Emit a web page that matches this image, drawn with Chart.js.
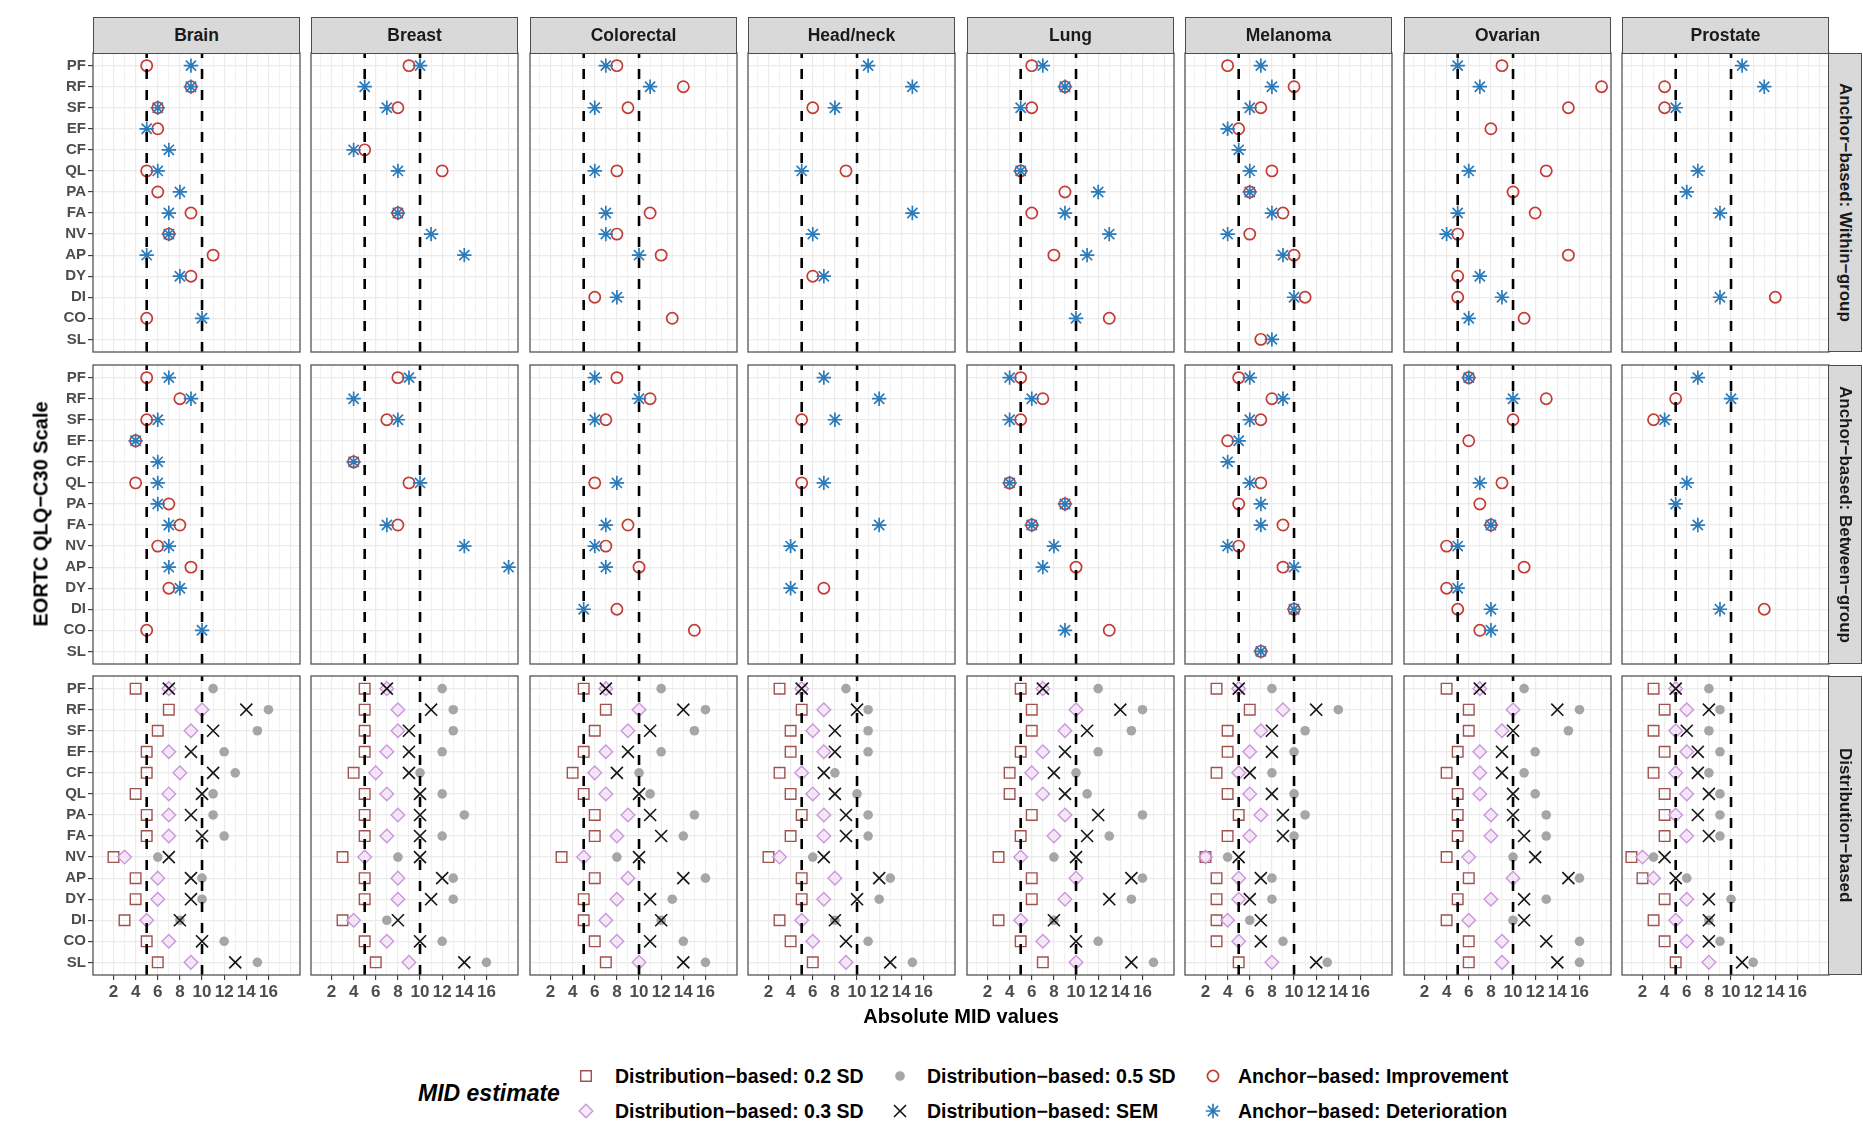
<!DOCTYPE html>
<html>
<head>
<meta charset="utf-8">
<title>EORTC QLQ-C30 MID estimates</title>
<script src="https://cdn.jsdelivr.net/npm/chart.js@4.4.1/dist/chart.umd.min.js"></script>
<style>
  html, body { margin: 0; padding: 0; background: #fff; }
  body { width: 1863px; height: 1123px; position: relative; overflow: hidden;
         font-family: 'Liberation Sans', Arial, Helvetica, sans-serif; }
  canvas.panel { position: absolute; }
  .strip { position: absolute; box-sizing: border-box; background: #D9D9D9;
           border: 1.3px solid #4D4D4D; color: #1A1A1A; font-weight: bold;
           display: flex; align-items: center; justify-content: center; }
  .strip.top { font-size: 17.5px; }
  .strip.side { font-size: 17px; writing-mode: vertical-rl; }
  .title { position: absolute; font-weight: bold; color: #000; white-space: nowrap; font-size: 20px; }
  .legend-title { position: absolute; font-weight: bold; font-style: italic; font-size: 23px; white-space: nowrap; }
  .legend-text { position: absolute; font-weight: bold; font-size: 19.5px; white-space: nowrap; color: #000; }
  canvas.key { position: absolute; }
</style>
</head>
<body>
<script>
// ---- categories ----
const cancers = ['Brain', 'Breast', 'Colorectal', 'Head/neck', 'Lung', 'Melanoma', 'Ovarian', 'Prostate'];
const qlqScales = ['PF', 'RF', 'SF', 'EF', 'CF', 'QL', 'PA', 'FA', 'NV', 'AP', 'DY', 'DI', 'CO', 'SL'];
const rowStrips = ['Anchor−based: Within−group', 'Anchor−based: Between−group', 'Distribution−based'];
const xTickLabels = [2, 4, 6, 8, 10, 12, 14, 16];
const xGridValues = [1, 2, 3, 4, 5, 6, 7, 8, 9, 10, 11, 12, 13, 14, 15, 16, 17, 18];
const midLines = [5, 10];

// ---- anchor-based, within-group (one row per cancer, columns follow qlqScales) ----
const withinImprove = [
  [5, 9, 6, 6, null, 5, 6, 9, 7, 11, 9, null, 5, null],
  [9, null, 8, null, 5, 12, null, 8, null, null, null, null, null, null],
  [8, 14, 9, null, null, 8, null, 11, 8, 12, null, 6, 13, null],
  [null, null, 6, null, null, 9, null, null, null, null, 6, null, null, null],
  [6, 9, 6, null, null, 5, 9, 6, null, 8, null, null, 13, null],
  [4, 10, 7, 5, null, 8, 6, 9, 6, 10, null, 11, null, 7],
  [9, 18, 15, 8, null, 13, 10, 12, 5, 15, 5, 5, 11, null],
  [null, 4, 4, null, null, null, null, null, null, null, null, 14, null, null]
];
const withinDeteriorate = [
  [9, 9, 6, 5, 7, 6, 8, 7, 7, 5, 8, null, 10, null],
  [10, 5, 7, null, 4, 8, null, 8, 11, 14, null, null, null, null],
  [7, 11, 6, null, null, 6, null, 7, 7, 10, null, 8, null, null],
  [11, 15, 8, null, null, 5, null, 15, 6, null, 7, null, null, null],
  [7, 9, 5, null, null, 5, 12, 9, 13, 11, null, null, 10, null],
  [7, 8, 6, 4, 5, 6, 6, 8, 4, 9, null, 10, null, 8],
  [5, 7, null, null, null, 6, null, 5, 4, null, 7, 9, 6, null],
  [11, 13, 5, null, null, 7, 6, 9, null, null, null, 9, null, null]
];

// ---- anchor-based, between-group ----
const betweenImprove = [
  [5, 8, 5, 4, null, 4, 7, 8, 6, 9, 7, null, 5, null],
  [8, null, 7, null, 4, 9, null, 8, null, null, null, null, null, null],
  [8, 11, 7, null, null, 6, null, 9, 7, 10, null, 8, 15, null],
  [null, null, 5, null, null, 5, null, null, null, null, 7, null, null, null],
  [5, 7, 5, null, null, 4, 9, 6, null, 10, null, null, 13, null],
  [5, 8, 7, 4, null, 7, 5, 9, 5, 9, null, 10, null, 7],
  [6, 13, 10, 6, null, 9, 7, 8, 4, 11, 4, 5, 7, null],
  [null, 5, 3, null, null, null, null, null, null, null, null, 13, null, null]
];
const betweenDeteriorate = [
  [7, 9, 6, 4, 6, 6, 6, 7, 7, 7, 8, null, 10, null],
  [9, 4, 8, null, 4, 10, null, 7, 14, 18, null, null, null, null],
  [6, 10, 6, null, null, 8, null, 7, 6, 7, null, 5, null, null],
  [7, 12, 8, null, null, 7, null, 12, 4, null, 4, null, null, null],
  [4, 6, 4, null, null, 4, 9, 6, 8, 7, null, null, 9, null],
  [6, 9, 6, 5, 4, 6, 7, 7, 4, 10, null, 10, null, 7],
  [6, 10, null, null, null, 7, null, 8, 5, null, 5, 8, 8, null],
  [7, 10, 4, null, null, 6, 5, 7, null, null, null, 9, null, null]
];

// ---- distribution-based ----
const dist02SD = [
  [4, 7, 6, 5, 5, 4, 5, 5, 2, 4, 4, 3, 5, 6],
  [5, 5, 5, 5, 4, 5, 5, 5, 3, 5, 5, 3, 5, 6],
  [5, 7, 6, 5, 4, 5, 6, 6, 3, 6, 5, 5, 6, 7],
  [3, 5, 4, 4, 3, 4, 5, 4, 2, 5, 5, 3, 4, 6],
  [5, 6, 6, 5, 4, 4, 6, 5, 3, 6, 6, 3, 5, 7],
  [3, 6, 4, 4, 3, 4, 5, 4, 2, 3, 3, 3, 3, 5],
  [4, 6, 6, 5, 4, 5, 5, 5, 4, 6, 5, 4, 6, 6],
  [3, 4, 3, 4, 3, 4, 4, 4, 1, 2, 4, 3, 4, 5]
];
const dist03SD = [
  [7, 10, 9, 7, 8, 7, 7, 7, 3, 6, 6, 5, 7, 9],
  [7, 8, 8, 7, 6, 7, 8, 7, 5, 8, 8, 4, 7, 9],
  [7, 10, 9, 7, 6, 7, 9, 8, 5, 9, 8, 7, 8, 10],
  [5, 7, 6, 7, 5, 6, 7, 7, 3, 8, 7, 5, 6, 9],
  [7, 10, 9, 7, 6, 7, 9, 8, 5, 10, 9, 5, 7, 10],
  [5, 9, 7, 6, 5, 6, 7, 6, 2, 5, 5, 4, 5, 8],
  [7, 10, 9, 7, 7, 7, 8, 8, 6, 10, 8, 6, 9, 9],
  [5, 6, 5, 6, 5, 6, 5, 6, 2, 3, 6, 5, 6, 8]
];
const dist05SD = [
  [11, 16, 15, 12, 13, 11, 11, 12, 6, 10, 10, 8, 12, 15],
  [12, 13, 13, 12, 10, 12, 14, 12, 8, 13, 13, 7, 12, 16],
  [12, 16, 15, 12, 10, 11, 15, 14, 8, 16, 13, 12, 14, 16],
  [9, 11, 11, 11, 8, 10, 11, 11, 6, 13, 12, 8, 11, 15],
  [12, 16, 15, 12, 10, 11, 16, 13, 8, 16, 15, 8, 12, 17],
  [8, 14, 11, 10, 8, 10, 11, 10, 4, 8, 8, 6, 9, 13],
  [11, 16, 15, 12, 11, 12, 13, 13, 10, 16, 13, 10, 16, 16],
  [8, 9, 8, 9, 8, 9, 9, 9, 3, 6, 10, 8, 9, 12]
];
const distSEM = [
  [7, 14, 11, 9, 11, 10, 9, 10, 7, 9, 9, 8, 10, 13],
  [7, 11, 9, 9, 9, 10, 10, 10, 10, 12, 11, 8, 10, 14],
  [7, 14, 11, 9, 8, 10, 11, 12, 10, 14, 11, 12, 11, 14],
  [5, 10, 8, 8, 7, 8, 9, 9, 7, 12, 10, 8, 9, 13],
  [7, 14, 11, 9, 8, 9, 12, 11, 10, 15, 13, 8, 10, 15],
  [5, 12, 8, 8, 6, 8, 9, 9, 5, 7, 6, 7, 7, 12],
  [7, 14, 10, 9, 9, 10, 10, 11, 12, 15, 11, 11, 13, 14],
  [5, 8, 6, 7, 7, 8, 7, 8, 4, 5, 8, 8, 8, 11]
];

// ---- marker appearance per MID estimate ----
const markStyles = {
  sd02:        { pointStyle: 'rect',     radius: 7.5, border: '#A0524F', fill: 'rgba(0,0,0,0)',        width: 1.4, order: 4 },
  sd03:        { pointStyle: 'rectRot',  radius: 6.8, border: '#CC96DC', fill: 'rgba(238,210,245,0.45)', width: 1.4, order: 3 },
  sd05:        { pointStyle: 'circle',   radius: 4.8, border: '#A6A6A6', fill: '#A6A6A6',              width: 0,   order: 2 },
  sem:         { pointStyle: 'crossRot', radius: 8.5, border: '#141414', fill: 'rgba(0,0,0,0)',        width: 1.6, order: 1 },
  improve:     { pointStyle: 'circle',   radius: 5.6, border: '#C23B37', fill: 'rgba(0,0,0,0)',        width: 1.7, order: 2 },
  deteriorate: { pointStyle: 'star',     radius: 7.2, border: '#2B7BBA', fill: 'rgba(0,0,0,0)',        width: 1.7, order: 1 }
};

const rowSeries = [
  [['improve', withinImprove], ['deteriorate', withinDeteriorate]],
  [['improve', betweenImprove], ['deteriorate', betweenDeteriorate]],
  [['sd02', dist02SD], ['sd03', dist03SD], ['sd05', dist05SD], ['sem', distSEM]]
];

const legendItems = [
  ['sd02', 'Distribution−based: 0.2 SD'],
  ['sd03', 'Distribution−based: 0.3 SD'],
  ['sd05', 'Distribution−based: 0.5 SD'],
  ['sem', 'Distribution−based: SEM'],
  ['improve', 'Anchor−based: Improvement'],
  ['deteriorate', 'Anchor−based: Deterioration']
];

// ---- page geometry ----
const colLefts = [93, 311, 530, 748, 967, 1185, 1404, 1622];
const rowTops = [53, 365, 676];
const PANEL_W = 207, PANEL_H = 299;
const ML = 60, MB = 40, PT = 12, PR = 12;
const FONT = "'Liberation Sans', Arial, Helvetica, sans-serif";

Chart.defaults.font.family = FONT;

const panelFrame = {
  id: 'panelFrame',
  afterDraw(chart) {
    const { ctx, chartArea: a } = chart;
    ctx.save();
    ctx.strokeStyle = '#555555';
    ctx.lineWidth = 1.3;
    ctx.strokeRect(a.left, a.top, a.right - a.left, a.bottom - a.top);
    ctx.restore();
  }
};

function buildDatasets(r, c) {
  const sets = [];
  rowSeries[r].forEach(([key, table]) => {
    const st = markStyles[key];
    const pts = [];
    table[c].forEach((v, i) => { if (v !== null) pts.push({ x: v, y: i + 1 }); });
    sets.push({
      label: key, data: pts, order: st.order,
      pointStyle: st.pointStyle, pointRadius: st.radius, pointHoverRadius: st.radius,
      pointBorderColor: st.border, pointBackgroundColor: st.fill, pointBorderWidth: st.width,
      borderColor: st.border, backgroundColor: st.fill
    });
  });
  midLines.forEach(v => {
    sets.push({
      label: 'mid' + v, order: 0, showLine: true,
      data: [{ x: v, y: qlqScales.length + 0.6 }, { x: v, y: 0.4 }],
      borderColor: '#000', borderWidth: 2.6, borderDash: [10, 11],
      pointRadius: 0, pointHoverRadius: 0, fill: false
    });
  });
  return sets;
}

function makePanel(r, c) {
  const cv = document.createElement('canvas');
  cv.className = 'panel';
  cv.width = ML + PANEL_W + PR;
  cv.height = PT + PANEL_H + MB;
  cv.style.left = (colLefts[c] - ML) + 'px';
  cv.style.top = (rowTops[r] - PT) + 'px';
  document.body.appendChild(cv);

  const isLeft = c === 0;
  const isBottom = r === rowSeries.length - 1;

  new Chart(cv, {
    type: 'scatter',
    data: { datasets: buildDatasets(r, c) },
    options: {
      responsive: false, animation: false, devicePixelRatio: 1,
      layout: { padding: { top: PT, right: PR, left: 0, bottom: 0 } },
      plugins: { legend: { display: false }, tooltip: { enabled: false } },
      events: [],
      scales: {
        x: {
          type: 'linear', position: 'bottom', min: 0.15, max: 18.85,
          afterBuildTicks: s => { s.ticks = xGridValues.map(v => ({ value: v })); },
          afterFit: s => { s.height = MB; },
          border: { display: false },
          grid: {
            color: ctx => (ctx.tick && ctx.tick.value % 2 === 0) ? '#EBEBEB' : '#F1F1F1',
            lineWidth: ctx => (ctx.tick && ctx.tick.value % 2 === 0) ? 1.2 : 1.0,
            drawTicks: isBottom, tickLength: 5, tickWidth: 1.1,
            tickColor: ctx => (ctx.tick && xTickLabels.includes(ctx.tick.value)) ? '#333333' : 'rgba(0,0,0,0)'
          },
          ticks: {
            display: isBottom, autoSkip: false, maxRotation: 0, minRotation: 0, padding: 2,
            color: '#4D4D4D', font: { size: 17, weight: 'bold', family: FONT },
            callback: v => xTickLabels.includes(v) ? String(v) : ''
          }
        },
        y: {
          type: 'linear', reverse: true, min: 0.4, max: qlqScales.length + 0.6,
          afterBuildTicks: s => { s.ticks = qlqScales.map((_, i) => ({ value: i + 1 })); },
          afterFit: s => { s.width = ML; },
          border: { display: false },
          grid: {
            color: '#EBEBEB', lineWidth: 1.2,
            drawTicks: isLeft, tickLength: 5, tickWidth: 1.1, tickColor: '#333333'
          },
          ticks: {
            display: isLeft, autoSkip: false, padding: 2,
            color: '#4D4D4D', font: { size: 15, weight: 'bold', family: FONT },
            callback: v => qlqScales[v - 1] || ''
          }
        }
      }
    },
    plugins: [panelFrame]
  });
}

for (let r = 0; r < rowSeries.length; r++) {
  for (let c = 0; c < cancers.length; c++) makePanel(r, c);
}

// ---- facet strips ----
cancers.forEach((name, c) => {
  const d = document.createElement('div');
  d.className = 'strip top';
  d.textContent = name;
  Object.assign(d.style, { left: colLefts[c] + 'px', top: '17px', width: PANEL_W + 'px', height: (rowTops[0] - 17 + 1) + 'px' });
  document.body.appendChild(d);
});
rowStrips.forEach((name, r) => {
  const d = document.createElement('div');
  d.className = 'strip side';
  d.textContent = name;
  Object.assign(d.style, { left: (colLefts[7] + PANEL_W - 1) + 'px', top: rowTops[r] + 'px', width: '34px', height: PANEL_H + 'px' });
  document.body.appendChild(d);
});

// ---- axis titles ----
function addText(cls, text, style) {
  const d = document.createElement('div');
  d.className = cls;
  d.textContent = text;
  Object.assign(d.style, style);
  document.body.appendChild(d);
  return d;
}
addText('title', 'Absolute MID values', { left: '961px', top: '1016px', transform: 'translate(-50%, -50%)' });
addText('title', 'EORTC QLQ−C30 Scale', { left: '41px', top: '514px', transform: 'translate(-50%, -50%) rotate(-90deg)' });

// ---- legend ----
addText('legend-title', 'MID estimate', { left: '418px', top: '1093px', transform: 'translateY(-50%)' });
const keyCols = [586, 900, 1213];
const textCols = [615, 927, 1238];
const keyRows = [1076, 1111];

function drawKey(ctx, st, x, y) {
  ctx.save();
  ctx.strokeStyle = st.border;
  ctx.fillStyle = st.fill;
  ctx.lineWidth = st.width;
  if (Chart.helpers && Chart.helpers.drawPoint) {
    Chart.helpers.drawPoint(ctx, { pointStyle: st.pointStyle, radius: st.radius, rotation: 0, borderWidth: st.width }, x, y);
  }
  ctx.restore();
}

legendItems.forEach(([key, label], i) => {
  const col = Math.floor(i / 2), row = i % 2;
  const cv = document.createElement('canvas');
  cv.className = 'key';
  cv.width = 30; cv.height = 30;
  cv.style.left = (keyCols[col] - 15) + 'px';
  cv.style.top = (keyRows[row] - 15) + 'px';
  document.body.appendChild(cv);
  drawKey(cv.getContext('2d'), markStyles[key], 15, 15);
  addText('legend-text', label, { left: textCols[col] + 'px', top: keyRows[row] + 'px', transform: 'translateY(-50%)' });
});
</script>
</body>
</html>
